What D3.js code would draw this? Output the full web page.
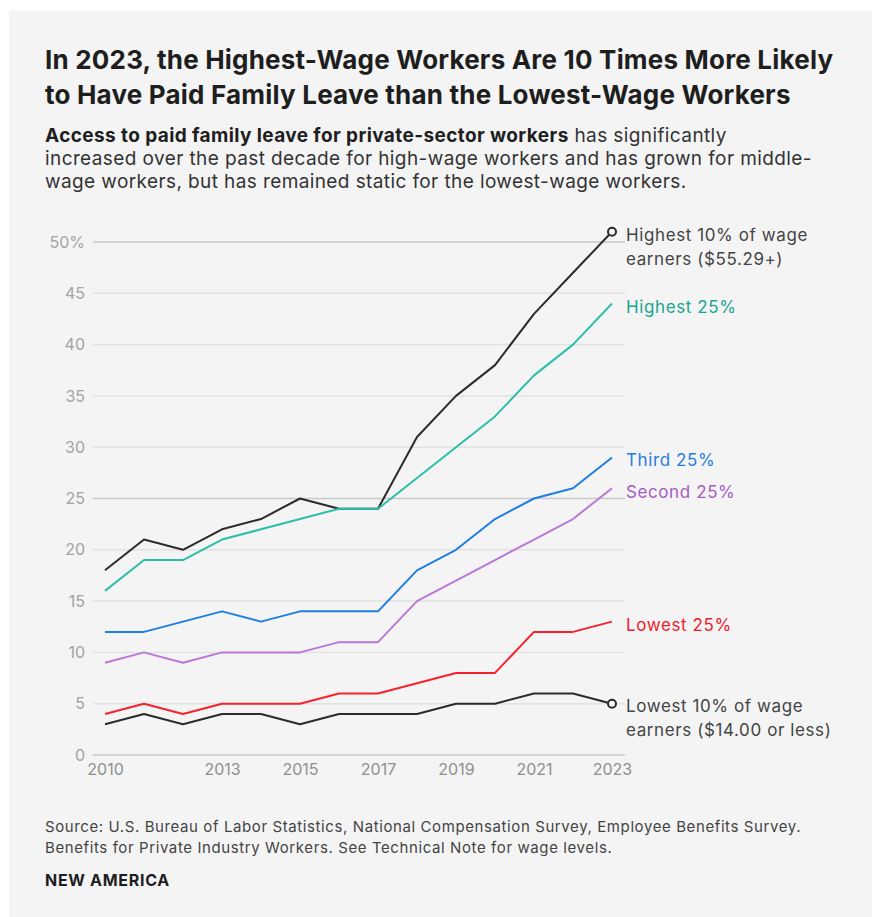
<!DOCTYPE html>
<html>
<head>
<meta charset="utf-8">
<script src="https://cdn.jsdelivr.net/npm/d3@7.9.0/dist/d3.min.js"></script>
<style>
  body { margin: 0; background: #fff; }
  svg { display: block; font-family: Inter, "Noto Sans", sans-serif; }
</style>
</head>
<body>
<svg id="chart" width="872" height="917"></svg>
<script>
// Data: share of private-sector workers with paid family leave (%)
const years = [2010, 2011, 2012, 2013, 2014, 2015, 2016, 2017, 2018, 2019, 2020, 2021, 2022, 2023];
const highest10 = [18, 21, 20, 22, 23, 25, 24, 24, 31, 35, 38, 43, 47, 51];
const highest25 = [16, 19, 19, 21, 22, 23, 24, 24, 27, 30, 33, 37, 40, 44];
const third25 = [12, 12, 13, 14, 13, 14, 14, 14, 18, 20, 23, 25, 26, 29];
const second25 = [9, 10, 9, 10, 10, 10, 11, 11, 15, 17, 19, 21, 23, 26];
const lowest25 = [4, 5, 4, 5, 5, 5, 6, 6, 7, 8, 8, 12, 12, 13];
const lowest10 = [3, 4, 3, 4, 4, 3, 4, 4, 4, 5, 5, 6, 6, 5];

const yTicks = [0, 5, 10, 15, 20, 25, 30, 35, 40, 45, 50];
const xTicks = [2010, 2013, 2015, 2017, 2019, 2021, 2023];

const seriesNames = ["Highest 10%", "Highest 25%", "Third 25%", "Second 25%", "Lowest 25%", "Lowest 10%"];
const seriesValues = [highest10, highest25, third25, second25, lowest25, lowest10];
const seriesLabels = [
  ["Highest 10% of wage", "earners ($55.29+)"],
  ["Highest 25%"],
  ["Third 25%"],
  ["Second 25%"],
  ["Lowest 25%"],
  ["Lowest 10% of wage", "earners ($14.00 or less)"],
];

// styling
const lineColors = ["#2b2b2b", "#2bbfa9", "#1f7fe0", "#bb77d8", "#f5222d", "#2b2b2b"];
const labelColors = ["#444", "#1aa592", "#1f7fe0", "#a55cc6", "#ee1c2b", "#444"];

const svg = d3.select("#chart");

// gray panel
svg.append("rect")
  .attr("x", 9).attr("y", 11)
  .attr("width", 872 - 9).attr("height", 917 - 11)
  .attr("fill", "#f4f4f4");

// ---- header ----
const title = svg.append("text")
  .attr("x", 45)
  .attr("font-size", 26)
  .attr("font-weight", 700)
  .attr("letter-spacing", 0.2)
  .attr("fill", "#1e1e1e");
title.append("tspan").attr("x", 45).attr("y", 69)
  .text("In 2023, the Highest-Wage Workers Are 10 Times More Likely");
title.append("tspan").attr("x", 45).attr("y", 104)
  .text("to Have Paid Family Leave than the Lowest-Wage Workers");

const sub = svg.append("g")
  .attr("font-size", 19)
  .attr("letter-spacing", 0.4)
  .attr("fill", "#333");
const l1 = sub.append("text").attr("x", 45).attr("y", 142);
l1.append("tspan").attr("font-weight", 700).attr("fill", "#1e1e1e")
  .text("Access to paid family leave for private-sector workers");
l1.append("tspan").text(" has significantly");
sub.append("text").attr("x", 45).attr("y", 165)
  .text("increased over the past decade for high-wage workers and has grown for middle-");
sub.append("text").attr("x", 45).attr("y", 188)
  .text("wage workers, but has remained static for the lowest-wage workers.");

// ---- plot ----
const x = d3.scaleLinear().domain([2010, 2023]).range([105, 612]);
const y = d3.scaleLinear().domain([0, 50]).range([755, 242]);

const gridLeft = 93, gridRight = 625;

// gridlines
svg.append("g")
  .selectAll("line")
  .data(yTicks)
  .join("line")
  .attr("x1", gridLeft)
  .attr("x2", gridRight)
  .attr("y1", d => y(d))
  .attr("y2", d => y(d))
  .attr("stroke", d => (d % 25 === 0 ? "#c9c9c9" : "#e2e2e2"))
  .attr("stroke-width", 1.5);

// y axis labels
const yAxis = svg.append("g")
  .attr("transform", `translate(${gridLeft - 8},0)`)
  .call(d3.axisLeft(y).tickValues(yTicks).tickSize(0)
    .tickFormat(d => (d === 50 ? "50%" : d)));
yAxis.select(".domain").remove();
yAxis.selectAll("text")
  .attr("font-family", "Inter, 'Noto Sans', sans-serif")
  .attr("font-size", 16)
  .attr("fill", "#a3a3a3")
  .attr("x", 0);

// x axis labels
const xAxis = svg.append("g")
  .attr("transform", `translate(0,${y(0) + 6})`)
  .call(d3.axisBottom(x).tickValues(xTicks).tickSize(0).tickFormat(d3.format("d")));
xAxis.select(".domain").remove();
xAxis.selectAll("text")
  .attr("font-family", "Inter, 'Noto Sans', sans-serif")
  .attr("font-size", 16)
  .attr("fill", "#8f8f8f");

// lines
const line = d3.line()
  .x((d, i) => x(years[i]))
  .y(d => y(d));

svg.append("g")
  .selectAll("path")
  .data(seriesValues)
  .join("path")
  .attr("d", d => line(d))
  .attr("fill", "none")
  .attr("stroke", (d, i) => lineColors[i])
  .attr("stroke-width", 2)
  .attr("stroke-linejoin", "round");

// end markers for the 10% series
const last = years.length - 1;
svg.append("g")
  .selectAll("circle")
  .data([highest10, lowest10])
  .join("circle")
  .attr("cx", x(years[last]))
  .attr("cy", d => y(d[last]))
  .attr("r", 4)
  .attr("fill", "#f4f4f4")
  .attr("stroke", "#2b2b2b")
  .attr("stroke-width", 2);

// end labels
const labelOffsets = [9, 9, 9, 10, 9, 8];
const labels = svg.append("g")
  .attr("font-size", 17)
  .attr("letter-spacing", 0.6);
seriesLabels.forEach((lines, i) => {
  const t = labels.append("text")
    .attr("fill", labelColors[i]);
  const vy = y(seriesValues[i][last]) + labelOffsets[i];
  lines.forEach((s, j) => {
    t.append("tspan")
      .attr("x", gridRight + 1)
      .attr("y", vy + j * 24)
      .text(s);
  });
});

// ---- footer ----
const foot = svg.append("g")
  .attr("font-size", 15)
  .attr("letter-spacing", 0.6)
  .attr("fill", "#444");
foot.append("text").attr("x", 45).attr("y", 832)
  .text("Source: U.S. Bureau of Labor Statistics, National Compensation Survey, Employee Benefits Survey.");
foot.append("text").attr("x", 45).attr("y", 853)
  .text("Benefits for Private Industry Workers. See Technical Note for wage levels.");
svg.append("text")
  .attr("x", 45).attr("y", 886)
  .attr("font-size", 16)
  .attr("font-weight", 700)
  .attr("letter-spacing", 0.7)
  .attr("fill", "#1e1e1e")
  .text("NEW AMERICA");
</script>
</body>
</html>
